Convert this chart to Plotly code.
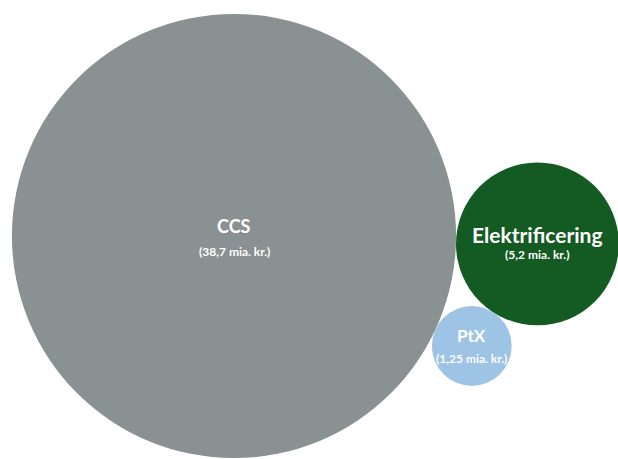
import math
import plotly.graph_objects as go

# Investment areas and their amounts (mia. kr.)
categories = ["CCS", "Elektrificering", "PtX"]
values = [38.7, 5.2, 1.25]
value_labels = ["(38,7 mia. kr.)", "(5,2 mia. kr.)", "(1,25 mia. kr.)"]

colors = ["#8a9192", "#135b22", "#9dc3e5"]
title_sizes = [18, 21, 17]
sub_sizes = [12, 12, 12]

W, H = 618, 459
K = 35.7  # px of radius per sqrt(mia. kr.) -> bubble area proportional to value
radii = [K * math.sqrt(v) for v in values]

# Pack the bubbles: big one on the left, the second touching it on the right,
# the third tucked underneath, touching both.
c1 = (234.0, 236.0)
theta = math.radians(1.5)
d12 = radii[0] + radii[1]
c2 = (c1[0] + d12 * math.cos(theta), c1[1] + d12 * math.sin(theta))
a = radii[0] + radii[2]
b = radii[1] + radii[2]
along = (a * a - b * b + d12 * d12) / (2 * d12)
h = math.sqrt(a * a - along * along)
ux, uy = math.cos(theta), math.sin(theta)
c3 = (c1[0] + along * ux - h * uy, c1[1] + along * uy + h * ux)
centers = [c1, c2, c3]

xs = [c[0] for c in centers]
ys = [c[1] for c in centers]

fig = go.Figure(
    go.Scatter(
        x=xs,
        y=ys,
        mode="markers",
        marker=dict(
            size=values,
            sizemode="area",
            sizeref=1.0 / (2 * K * K),
            color=colors,
            opacity=1,
            line=dict(width=0),
        ),
        hoverinfo="text",
        text=[f"{c} {v}" for c, v in zip(categories, value_labels)],
        cliponaxis=False,
    )
)

font_family = "Lato, 'Open Sans', sans-serif"
title_offsets = [10, 9, 11]
sub_offsets = [-15, -11, -12]
for i, cat in enumerate(categories):
    fig.add_annotation(
        x=xs[i], y=ys[i], text=f"<b>{cat}</b>", showarrow=False,
        yshift=title_offsets[i], xshift=0,
        font=dict(family=font_family, size=title_sizes[i], color="#ffffff"),
    )
    fig.add_annotation(
        x=xs[i], y=ys[i], text=f"<b>{value_labels[i]}</b>", showarrow=False,
        yshift=sub_offsets[i],
        font=dict(family=font_family, size=sub_sizes[i], color="#ffffff"),
    )

fig.update_layout(
    width=W,
    height=H,
    margin=dict(l=0, r=0, t=0, b=0),
    paper_bgcolor="#ffffff",
    plot_bgcolor="#ffffff",
    showlegend=False,
    xaxis=dict(range=[0, W], visible=False, fixedrange=True),
    yaxis=dict(range=[H, 0], visible=False, fixedrange=True),
)

fig.write_html("out.html")
